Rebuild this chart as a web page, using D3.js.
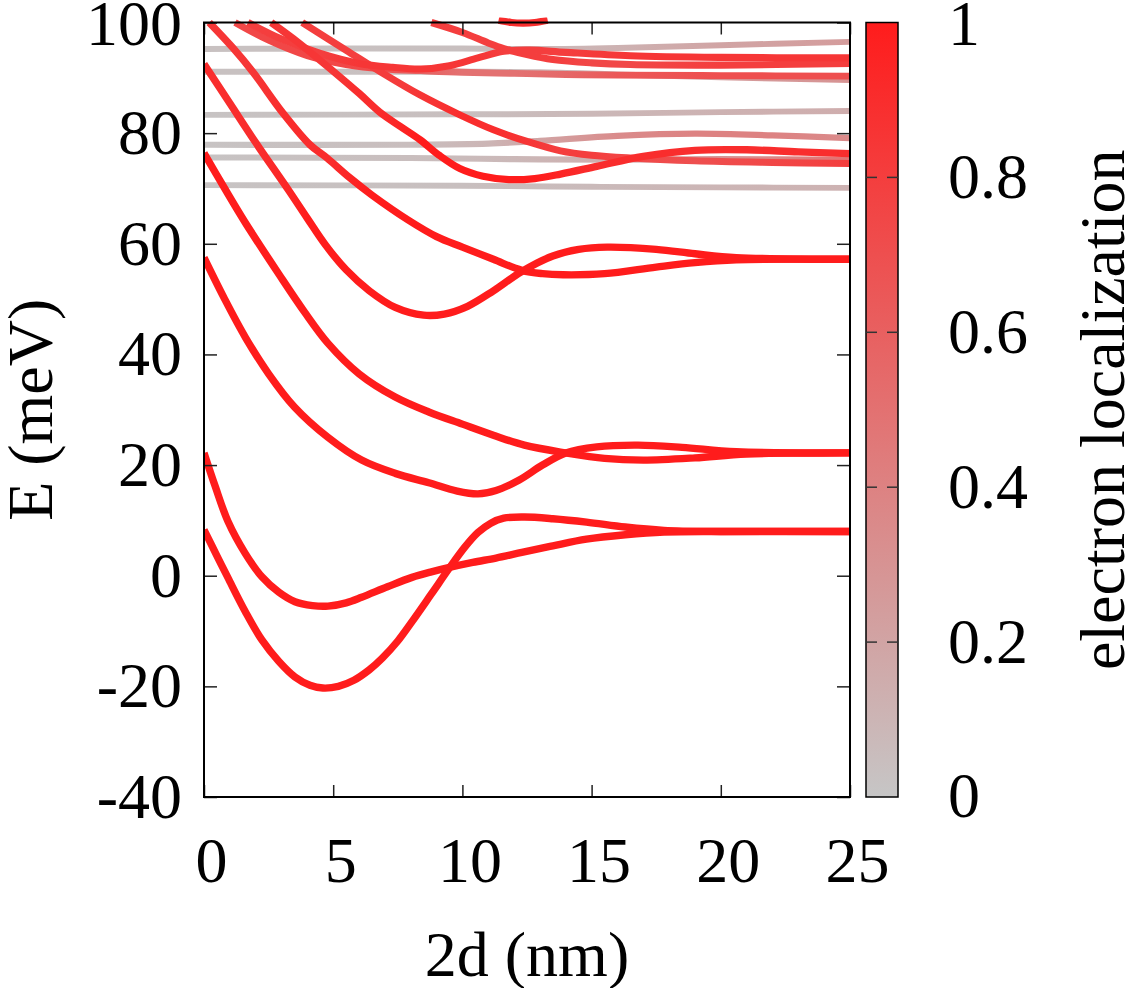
<!DOCTYPE html>
<html>
<head>
<meta charset="utf-8">
<script src="https://cdn.jsdelivr.net/npm/d3@7"></script>
<style>
  body { margin: 0; background: #fff; }
  svg { display: block; font-family: "Liberation Serif", "Times New Roman", serif; }
</style>
</head>
<body>
<div id="grafico"></div>
<script>
// every level: [2d (nm), E (meV), electron localization]
const gray1 = [[0, 95.2, 0.03], [5, 95.3, 0.03], [10, 95.3, 0.04], [13, 95.2, 0.08], [16, 95.4, 0.12], [20, 95.9, 0.2], [25, 96.5, 0.25]];
const gray2 = [[0, 91.1, 0.03], [5, 91.1, 0.03], [10, 91.1, 0.05], [13, 91.0, 0.08], [16, 90.6, 0.15], [20, 90.1, 0.25], [25, 89.6, 0.3]];
const gray3 = [[0, 83.3, 0.02], [10, 83.4, 0.04], [15, 83.5, 0.08], [20, 83.8, 0.12], [25, 84.0, 0.15]];
const gray4 = [[0, 77.9, 0.02], [8, 77.9, 0.05], [11, 78.1, 0.1], [13, 78.6, 0.2], [16, 79.5, 0.35], [19, 79.9, 0.4], [22, 79.6, 0.4], [25, 79.1, 0.35]];
const gray5 = [[0, 75.6, 0.02], [8, 75.5, 0.05], [12, 75.3, 0.08], [16, 75.2, 0.15], [20, 75.3, 0.3], [25, 75.2, 0.5]];
const gray6 = [[0, 70.6, 0.02], [10, 70.5, 0.04], [15, 70.3, 0.07], [20, 70.2, 0.1], [25, 70.1, 0.12]];

const levelA = [[0, 8.3, 1], [0.5, 3.6, 1], [0.93, -0.4, 1], [1.6, -6.5, 1], [2.24, -11.6, 1], [2.9, -15.5, 1],
  [3.52, -18.3, 1], [4.1, -19.8, 1], [4.6, -20.3, 1], [5.2, -20.0, 1], [5.8, -18.9, 1], [6.4, -17.0, 1],
  [6.9, -14.9, 1], [7.5, -11.8, 1], [8.05, -8.3, 1], [8.8, -3.3, 1], [9.5, 1.4, 1], [10.1, 5.2, 1],
  [10.6, 7.8, 1], [11.1, 9.5, 1], [11.6, 10.4, 1], [12.4, 10.6, 1], [13.5, 10.3, 1], [14.8, 9.7, 1],
  [16.3, 8.8, 1], [17.8, 8.2, 1], [20, 8.0, 1], [22.5, 8.0, 1], [25, 8.0, 1]];
const levelB = [[0, 22.2, 1], [0.43, 16.2, 1], [0.93, 9.8, 1], [1.6, 4, 1], [2.24, -0.2, 1], [2.9, -3, 1],
  [3.52, -4.7, 1], [4.2, -5.4, 1], [4.8, -5.5, 1], [5.5, -4.9, 1], [6.1, -3.9, 1], [7.1, -2, 1],
  [8.05, -0.3, 1], [8.8, 0.7, 1], [9.5, 1.5, 1], [10.4, 2.4, 1], [11.3, 3.2, 1], [12.3, 4.2, 1],
  [13.5, 5.4, 1], [14.8, 6.6, 1], [16.3, 7.4, 1], [17.8, 7.9, 1], [20, 8.0, 1], [25, 8.0, 1]];
const levelC = [[0, 57.5, 1], [0.8, 50, 1], [1.6, 43.1, 1], [2.5, 36.5, 1], [3.5, 30.5, 1], [4.8, 25, 1],
  [6.1, 20.9, 1], [7.4, 18.5, 1], [8.7, 16.8, 1], [9.8, 15.3, 1], [10.6, 14.8, 1], [11.3, 15.4, 1],
  [12.2, 17.3, 1], [13.1, 20, 1], [14, 22.2, 1], [15.2, 23.3, 1], [16.8, 23.6, 1], [18.5, 23.2, 1],
  [20.6, 22.4, 1], [25, 22.2, 1]];
const levelD = [[0, 76.4, 1], [0.8, 70, 1], [1.6, 63.8, 1], [2.9, 54.5, 1], [3.9, 47.6, 1], [4.8, 42.0, 1],
  [6, 36.5, 1], [7.4, 32.3, 1], [8.7, 29.6, 1], [10, 27.4, 1], [11.2, 25.4, 1], [12.4, 23.6, 1],
  [14, 22.2, 1], [15.5, 21.2, 1], [17, 20.9, 1], [19, 21.3, 1], [21, 22, 1], [25, 22.2, 1]];
const levelE = [[0, 92.5, 0.9], [1, 85.4, 0.9], [2, 78.3, 0.9], [3.3, 69.5, 0.95], [4.0, 64.6, 1],
  [4.7, 59.8, 1], [5.5, 55.3, 1], [6.4, 51.5, 1], [7.4, 48.5, 1],
  [8.5, 47.1, 1], [9.3, 47.3, 1], [10.2, 48.7, 1], [11.2, 51.5, 1], [12.3, 55, 1], [13.5, 57.8, 1],
  [14.5, 59, 1], [15.6, 59.4, 1], [17.5, 59, 1], [19, 58.2, 1], [20.6, 57.5, 1], [25, 57.2, 1]];
const levelF = [[0.2, 100, 0.85], [1.12, 95.4, 0.85], [1.9, 91.0, 0.85], [3.06, 83.6, 0.9], [4.1, 77.9, 0.9],
  [4.76, 75.5, 0.9], [5.65, 71.9, 0.95], [6.5, 68.8, 1], [7.9, 64.3, 1], [9, 61.3, 1], [10, 59.4, 1],
  [11.2, 57.2, 1], [12.3, 55.2, 1], [13.1, 54.6, 1], [13.9, 54.4, 1], [15.5, 54.6, 1], [17.5, 55.8, 1],
  [19, 56.6, 1], [20.6, 57.1, 1], [25, 57.2, 1]];
const levelG = [[2.6, 100, 0.85], [3.7, 96.2, 0.85], [5.0, 91.2, 0.85], [6.0, 87.2, 0.9], [6.8, 83.8, 0.9],
  [7.6, 81.2, 0.95], [8.36, 78.8, 1], [9.1, 76.0, 1], [9.9, 73.6, 1], [10.8, 72.2, 1], [11.8, 71.6, 1],
  [12.8, 71.8, 1], [13.8, 72.6, 0.95], [15.2, 74.0, 0.9], [17, 75.8, 0.9], [19, 76.9, 0.9], [21, 77.0, 0.9],
  [23, 76.6, 0.9], [25, 76.3, 0.9]];
const levelH = [[3.8, 100, 0.8], [5.5, 95.0, 0.8], [7, 90.6, 0.8], [8.36, 86.9, 0.85], [9.9, 83.3, 0.9],
  [11.2, 80.6, 0.9], [12.5, 78.5, 0.85], [13.8, 76.8, 0.8], [15, 76.0, 0.8], [16.5, 75.5, 0.75],
  [19, 75.0, 0.7], [22, 74.7, 0.75], [25, 74.5, 0.8]];
const levelP = [[1.7, 100, 0.8], [3, 97, 0.8], [4.5, 94.4, 0.8], [6, 92.6, 0.85], [7.3, 91.9, 0.85],
  [8.4, 91.6, 0.85], [9.5, 92.2, 0.85], [10.6, 93.6, 0.85], [11.6, 94.8, 0.8], [12.6, 95.0, 0.8],
  [14, 94.6, 0.8], [16.5, 94.0, 0.85], [20, 93.7, 0.85], [25, 93.6, 0.85]];
const levelP2 = [[1.2, 100, 0.75], [2.5, 96.8, 0.75], [4, 94, 0.75], [5.5, 92.4, 0.75], [7, 91.6, 0.7],
  [8.4, 91.3, 0.6], [10, 91.0, 0.5], [12, 90.8, 0.5], [14, 90.6, 0.55], [16, 90.5, 0.65], [20, 90.4, 0.7],
  [25, 90.3, 0.7]];
const levelQ = [[8.8, 100, 0.8], [10, 98.2, 0.8], [11, 96.3, 0.8], [11.6, 95.3, 0.8], [12.5, 94.2, 0.8],
  [13.5, 93.3, 0.8], [15, 92.7, 0.75], [16.5, 92.4, 0.75], [20, 92.3, 0.8], [25, 92.6, 0.8]];
const levelS = [[11.4, 100.4, 0.9], [11.9, 100.0, 0.9], [12.35, 99.9, 0.9], [12.8, 100.0, 0.9], [13.3, 100.4, 0.9]];

const xTicks = [0, 5, 10, 15, 20, 25];
const yTicks = [-40, -20, 0, 20, 40, 60, 80, 100];
const cTicks = [0, 0.2, 0.4, 0.6, 0.8, 1];

const levels = [gray1, gray2, gray3, gray4, gray5, gray6,
  levelA, levelB, levelC, levelD, levelE, levelF, levelG, levelH, levelP, levelP2, levelQ, levelS];

const margin = { top: 22.5, left: 204, bottom: 191, right: 278 };
const width  = 646;
const height = 774.5;
const fontSize = 64;

const palette = d3.interpolateRgb("#c6c6c6", "#ff1c1c");

const svg = d3.select("#grafico")
              .append("svg")
              .attr("width", width + margin.left + margin.right)
              .attr("height", height + margin.top + margin.bottom)
              .append("g")
              .attr("transform", `translate(${margin.left}, ${margin.top})`);

const xScale = d3.scaleLinear().domain([0, 25]).range([0, width]);
const yScale = d3.scaleLinear().domain([-40, 100]).range([height, 0]);
const cScale = d3.scaleLinear().domain([0, 1]).range([height, 0]);

const defs = svg.append("defs");

defs.append("clipPath")
    .attr("id", "plotclip")
    .append("rect")
    .attr("x", 0)
    .attr("y", -5)
    .attr("width", width)
    .attr("height", height + 5);

// gradient along x for each level, coloured by localization
levels.forEach((lv, i) => {
    const x0 = xScale(lv[0][0]);
    const x1 = xScale(lv[lv.length - 1][0]);
    defs.append("linearGradient")
        .attr("id", "lv" + i)
        .attr("gradientUnits", "userSpaceOnUse")
        .attr("x1", x0).attr("x2", x1)
        .attr("y1", 0).attr("y2", 0)
        .selectAll("stop")
        .data(lv)
        .join("stop")
        .attr("offset", d => (xScale(d[0]) - x0) / (x1 - x0))
        .attr("stop-color", d => palette(d[2]));
});

const line = d3.line()
               .x(d => xScale(d[0]))
               .y(d => yScale(d[1]))
               .curve(d3.curveCatmullRom.alpha(0.5));

const order = levels.map((lv, i) => ({ lv, i, m: d3.mean(lv, d => d[2]) }))
                    .sort((a, b) => a.m - b.m);

svg.append("g")
   .attr("clip-path", "url(#plotclip)")
   .selectAll("path")
   .data(order)
   .join("path")
   .attr("d", d => line(d.lv))
   .attr("fill", "none")
   .attr("stroke", d => `url(#lv${d.i})`)
   .attr("stroke-width", d => 5.8 + 1.6 * d.m)
   .attr("stroke-linecap", "butt");

// axes with inward ticks
const yAxis = d3.axisLeft(yScale).tickValues(yTicks).tickSize(-13).tickPadding(22).tickFormat(d => String(d));
const gy = svg.append("g").call(yAxis);
gy.selectAll("text").attr("dy", d => d === 100 ? "0.35em" : "0.32em");

const xAxis = d3.axisBottom(xScale).tickValues(xTicks).tickSize(-12).tickPadding(40).tickFormat(d => String(d));
const gx = svg.append("g").attr("transform", `translate(0, ${height})`).call(xAxis);
gx.selectAll("text").attr("dx", 7);

svg.append("g")
   .call(d3.axisTop(xScale).tickValues(xTicks).tickSize(-12).tickFormat(""));
svg.append("g")
   .attr("transform", `translate(${width}, 0)`)
   .call(d3.axisRight(yScale).tickValues(yTicks).tickSize(-13).tickFormat(""));

svg.selectAll(".domain").remove();
svg.selectAll(".tick line").attr("stroke", "#222").attr("stroke-width", 1.5);
svg.selectAll(".tick text")
   .attr("font-size", fontSize)
   .attr("font-family", "Liberation Serif, Times New Roman, serif")
   .attr("fill", "#000");

svg.append("rect")
   .attr("width", width)
   .attr("height", height)
   .attr("fill", "none")
   .attr("stroke", "#000")
   .attr("stroke-width", 2);

// colour box
const cbX = width + 16;
const cbW = 32;
const cgrad = defs.append("linearGradient")
                  .attr("id", "cbar")
                  .attr("x1", 0).attr("x2", 0)
                  .attr("y1", 1).attr("y2", 0);
cgrad.selectAll("stop")
     .data(d3.range(0, 1.0001, 0.1))
     .join("stop")
     .attr("offset", d => d)
     .attr("stop-color", d => palette(d));

svg.append("rect")
   .attr("x", cbX)
   .attr("y", 0)
   .attr("width", cbW)
   .attr("height", height)
   .attr("fill", "url(#cbar)")
   .attr("stroke", "#000")
   .attr("stroke-width", 1.5);

const cb = svg.append("g");
cb.selectAll("line.l")
  .data(cTicks.slice(1, -1))
  .join("line")
  .attr("x1", cbX).attr("x2", cbX + 11)
  .attr("y1", d => cScale(d)).attr("y2", d => cScale(d))
  .attr("stroke", "#333").attr("stroke-width", 1.5);
cb.selectAll("line.r")
  .data(cTicks.slice(1, -1))
  .join("line")
  .attr("x1", cbX + cbW - 11).attr("x2", cbX + cbW)
  .attr("y1", d => cScale(d)).attr("y2", d => cScale(d))
  .attr("stroke", "#333").attr("stroke-width", 1.5);
cb.selectAll("text")
  .data(cTicks)
  .join("text")
  .attr("x", cbX + cbW + 50)
  .attr("y", d => cScale(d))
  .attr("dy", d => d === 1 ? "0.35em" : "0.32em")
  .attr("font-size", fontSize)
  .text(d => String(d));

// axis titles
svg.append("text")
   .attr("transform", `translate(${52 - margin.left}, ${height / 2}) rotate(-90)`)
   .attr("font-size", fontSize)
   .style("text-anchor", "middle")
   .text("E (meV)");

svg.append("text")
   .attr("x", width / 2)
   .attr("y", height + 179)
   .attr("font-size", fontSize)
   .style("text-anchor", "middle")
   .text("2d (nm)");

svg.append("text")
   .attr("transform", `translate(${1124 - margin.left}, ${height / 2}) rotate(-90)`)
   .attr("font-size", fontSize)
   .style("text-anchor", "middle")
   .text("electron localization");
</script>
</body>
</html>
